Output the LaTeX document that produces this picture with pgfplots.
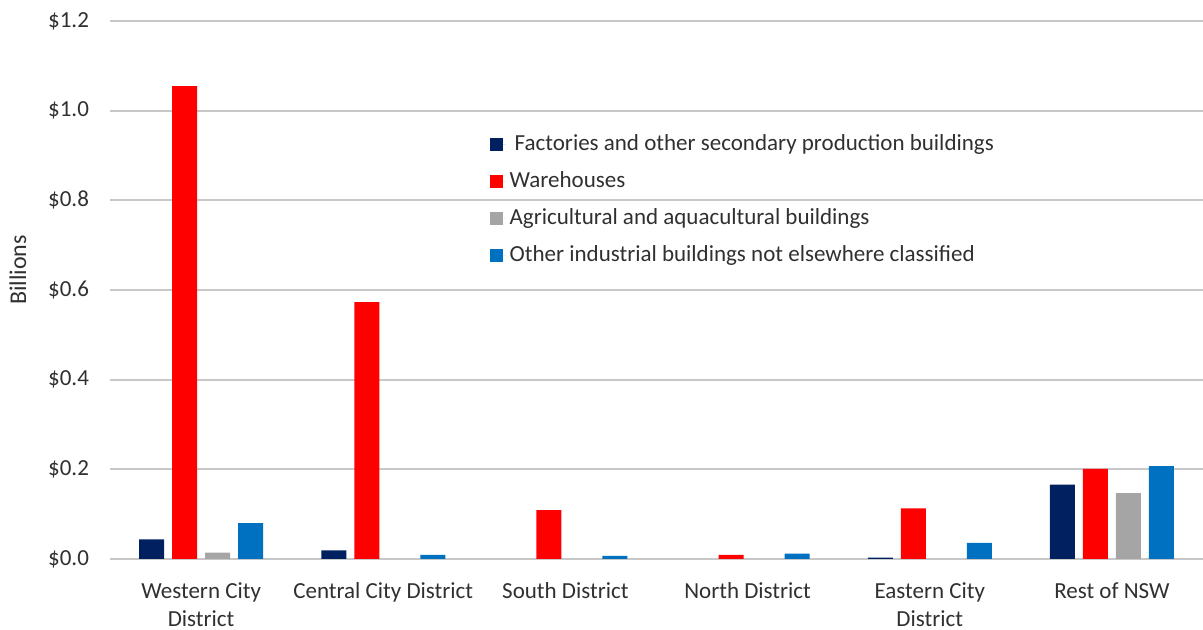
\documentclass[border=0pt]{standalone}
\usepackage{fontspec}
\setmainfont{Carlito}
\usepackage{pgfplots}
\pgfplotsset{compat=1.18}
\definecolor{cNavy}{HTML}{002060}
\definecolor{cRed}{HTML}{FF0000}
\definecolor{cGray}{HTML}{A5A5A5}
\definecolor{cBlue}{HTML}{0070C0}
\definecolor{cText}{HTML}{303030}
\definecolor{cGrid}{HTML}{C8C8C8}
\begin{document}
\begin{tikzpicture}[x=1pt,y=1pt]
\useasboundingbox (-55,-35.5) rectangle (546.5,279.5);
\begin{axis}[
  at={(0,0)}, anchor=south west,
  scale only axis, width=546.5pt, height=269pt,
  ymin=0, ymax=1.2, xmin=-0.5, xmax=5.5,
  ybar=4pt, bar width=12.5pt,
  font=\fontsize{11.5}{14}\selectfont,
  axis line style={draw=none}, tick style={draw=none},
  ymajorgrids, grid style={cGrid, line width=1.1pt},
  ytick={0,0.2,0.4,0.6,0.8,1.0,1.2},
  yticklabels={\$0.0,\$0.2,\$0.4,\$0.6,\$0.8,\$1.0,\$1.2},
  yticklabel style={text=cText, xshift=-7pt},
  xtick={0,1,2,3,4,5},
  xticklabels={Western City\\District, Central City District, South District, North District, Eastern City\\District, Rest of NSW},
  xticklabel style={align=center, text=cText, yshift=-4pt},
  ylabel={Billions},
  ylabel style={at={(axis description cs:-0.0842,0.537)}, anchor=center, text=cText, font=\fontsize{12}{14}\selectfont},
  legend style={at={(rel axis cs:0.347,0.797)}, anchor=north west, draw=none, fill=none,
    font=\fontsize{11.5}{14}\selectfont, text=cText, row sep=5pt, inner sep=0pt,
    /tikz/every even column/.append style={column sep=0pt}},
  legend cell align=left,
  legend image code/.code={\fill[#1,draw=none] (0pt,-3.25pt) rectangle (6.5pt,3.25pt); \path (0pt,0pt) -- (8pt,0pt);},
]
\addplot[fill=cNavy, draw=none] coordinates {(0,0.044) (1,0.019) (4,0.003) (5,0.166)};
\addplot[fill=cRed, draw=none] coordinates {(0,1.055) (1,0.573) (2,0.109) (3,0.009) (4,0.113) (5,0.201)};
\addplot[fill=cGray, draw=none] coordinates {(0,0.014) (5,0.147)};
\addplot[fill=cBlue, draw=none] coordinates {(0,0.080) (1,0.009) (2,0.007) (3,0.012) (4,0.036) (5,0.207)};
\legend{\hspace{2.5pt}Factories and other secondary production buildings, Warehouses, Agricultural and aquacultural buildings, Other industrial buildings not elsewhere classified}
\end{axis}
\end{tikzpicture}
\end{document}
